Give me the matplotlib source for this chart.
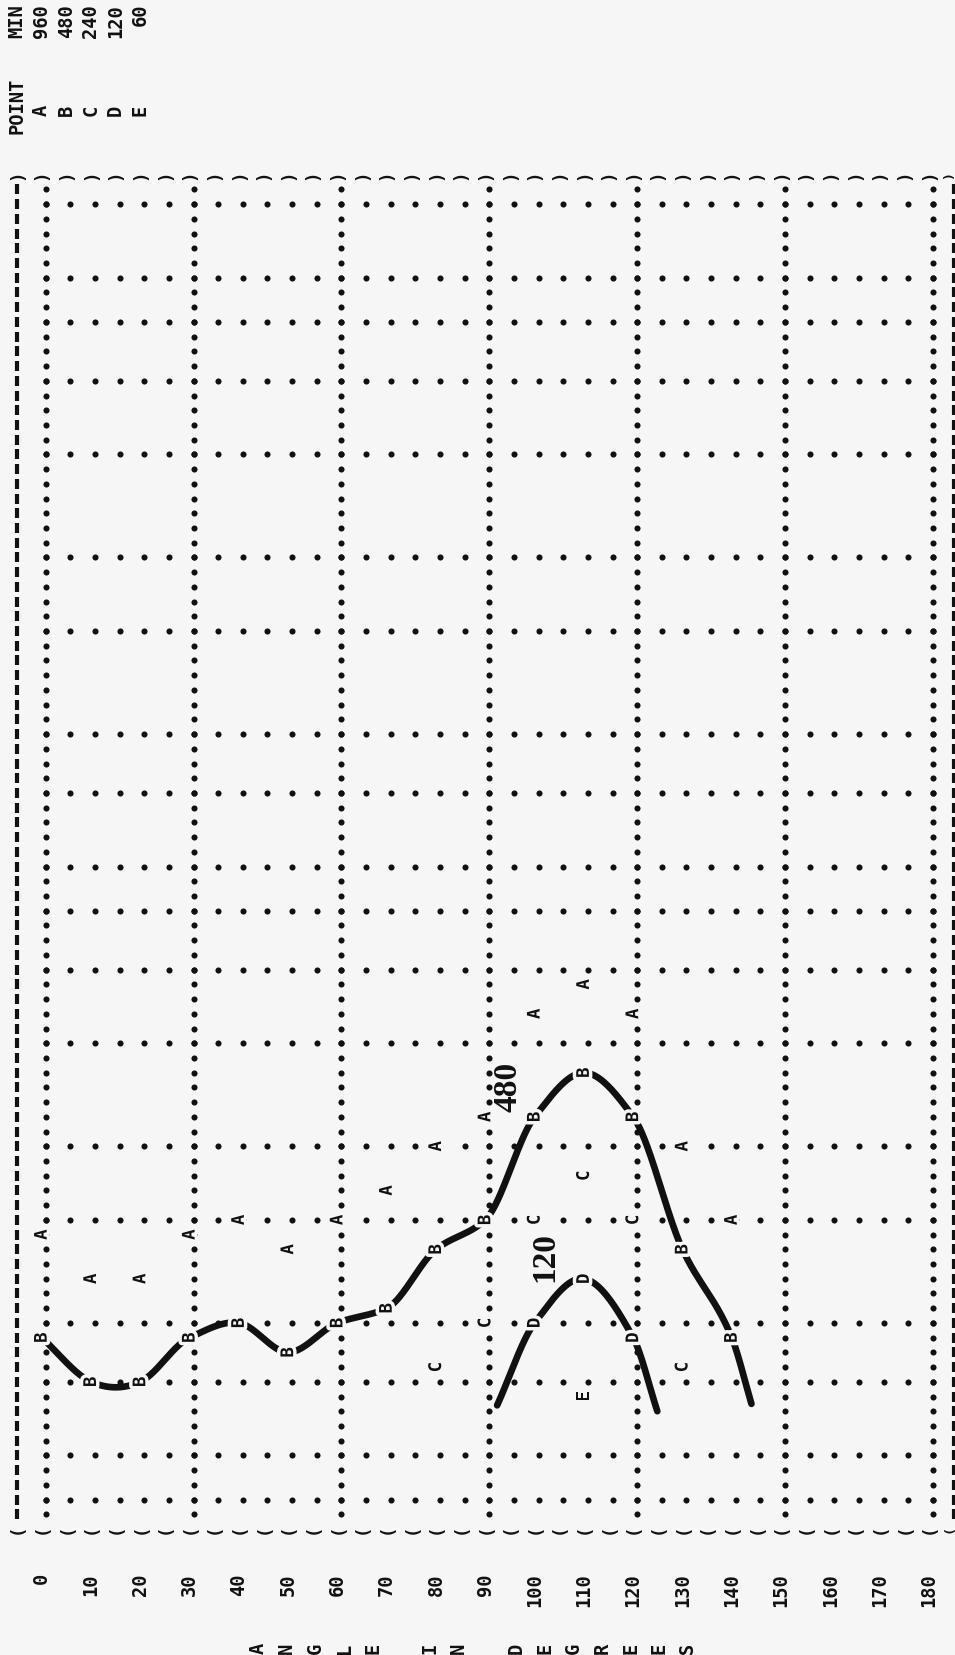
import numpy as np
import matplotlib
matplotlib.use("Agg")
import matplotlib.pyplot as plt
import matplotlib.patheffects as pe
from matplotlib.transforms import offset_copy
from matplotlib.font_manager import FontProperties

# plotted points: angle in degrees, value in printer columns
ang = [0, 10, 20, 30, 40, 50, 60, 70, 80, 90, 100, 110, 120, 130, 140]
col_a = [20, 17, 17, 20, 21, 19, 21, 23, 26, 28, 35, 37, 35, 26, 21]
col_b = [13, 10, 10, 13, 14, 12, 14, 15, 19, 21, 28, 31, 28, 19, 13]
ang_c = [80, 90, 100, 110, 120, 130]
col_c = [11, 14, 21, 24, 21, 11]
ang_d = [100, 110, 120]
col_d = [14, 17, 13]
ang_e = [110]
col_e = [9]

# where the hand-drawn curves start / stop
b_tail = (144.0, 8.5)
d_head = (92.4, 8.4)
d_tail = (124.9, 8.0)

# printer grid
grid_cols = [2, 5, 10, 14, 21, 26, 33, 38, 42, 45, 50, 54, 61, 66, 73, 78, 82, 85, 90]
grid_angles = [0, 30, 60, 90, 120, 150, 180]
tick_ang = list(range(0, 181, 10))
legend_min = ["960", "480", "240", "120", "60"]
legend_pt = ["A", "B", "C", "D", "E"]

bg = "#f6f6f6"
ink = "#111111"
mono = FontProperties(family="DejaVu Sans Mono", weight="bold", size=12.5)
mono_big = FontProperties(family="DejaVu Sans Mono", weight="bold", size=13.5)
mono_small = FontProperties(family="DejaVu Sans Mono", weight="bold", size=9.5)


def smooth(xs, ys, n=40):
    # piecewise cubic hermite, pchip-like slopes except at turning points
    xs = np.asarray(xs, float)
    ys = np.asarray(ys, float)
    h = np.diff(xs)
    d = np.diff(ys) / h
    m = np.empty_like(ys)
    m[0], m[-1] = d[0], d[-1]
    for i in range(1, len(xs) - 1):
        if d[i - 1] * d[i] > 0:
            w1 = 2 * h[i] + h[i - 1]
            w2 = h[i] + 2 * h[i - 1]
            m[i] = (w1 + w2) / (w1 / d[i - 1] + w2 / d[i])
        else:
            m[i] = (d[i - 1] * h[i] + d[i] * h[i - 1]) / (h[i - 1] + h[i])
    t = np.linspace(0, 1, n)
    h00 = 2 * t**3 - 3 * t**2 + 1
    h10 = t**3 - 2 * t**2 + t
    h01 = -2 * t**3 + 3 * t**2
    h11 = t**3 - t**2
    px, py = [], []
    for i in range(len(h)):
        px.append(xs[i] + t * h[i])
        py.append(h00 * ys[i] + h10 * h[i] * m[i] + h01 * ys[i + 1] + h11 * h[i] * m[i + 1])
    return np.concatenate(px), np.concatenate(py)


fig = plt.figure(figsize=(9.55, 16.55), dpi=100, facecolor=bg)
ax = fig.add_axes([0, 0, 1, 1])
ax.set_facecolor(bg)
ax.set_xlim(-9.27, 184.48)
ax.set_ylim(-8.56, 103.87)
ax.axis("off")

# characters sit a bit left of the dot positions
glyph = offset_copy(ax.transData, fig=fig, x=-4, y=0, units="dots")
edge = offset_copy(ax.transData, fig=fig, x=-9, y=0, units="dots")

# dotted grid
cols_all = np.arange(1, 92)
for a in grid_angles:
    ax.plot([a] * len(cols_all), cols_all, ls="none", marker="o", ms=4.4,
            color=ink, mec="none", zorder=1)
steps = np.arange(0, 181, 5)
for c in grid_cols:
    ax.plot(steps, [c] * len(steps), ls="none", marker="o", ms=4.4,
            color=ink, mec="none", zorder=1)

# frame
for a in range(-5, 186, 5):
    if a == 185:
        tr, fp = edge, mono_small
    else:
        tr, fp = glyph, mono
    ax.text(a, 92, ")", rotation=90, ha="center", va="center",
            fontproperties=fp, color=ink, transform=tr)
    ax.text(a, 0, "(", rotation=90, ha="center", va="center",
            fontproperties=fp, color=ink, transform=tr)
for a in (-5, 185):
    ax.plot([a] * len(cols_all), cols_all, ls="none", marker="|", ms=7.5,
            mew=3.0, color=ink, transform=glyph)

# hand-drawn curves
bx, by = smooth(ang + [b_tail[0]], col_b + [b_tail[1]])
ax.plot(bx, by, color=ink, lw=4.8, solid_capstyle="round", zorder=2,
        transform=glyph)
dx, dy = smooth([d_head[0]] + ang_d + [d_tail[0]], [d_head[1]] + col_d + [d_tail[1]])
ax.plot(dx, dy, color=ink, lw=4.8, solid_capstyle="round", zorder=2,
        transform=glyph)

# point letters
halo = [pe.withStroke(linewidth=5, foreground=bg)]
for letter, xs, ys in [("A", ang, col_a), ("B", ang, col_b), ("C", ang_c, col_c),
                       ("D", ang_d, col_d), ("E", ang_e, col_e)]:
    for x, y in zip(xs, ys):
        ax.text(x, y, letter, rotation=90, ha="center", va="center",
                fontproperties=mono, color=ink, transform=glyph,
                path_effects=halo, zorder=3)

# curve labels
serif = FontProperties(family="Liberation Serif", weight="bold", size=24)
ax.text(93.8, 30.0, "480", rotation=90, ha="center", va="center",
        fontproperties=serif, color=ink, zorder=4)
ax.text(101.3, 18.5, "120", rotation=90, ha="center", va="center",
        fontproperties=serif, color=ink, zorder=4)

# angle ticks
for a in tick_ang:
    ax.text(a, -3.0, str(a), rotation=90, ha="center", va="top",
            fontproperties=mono_big, color=ink, transform=glyph)

# axis title, one letter per printer line
fig.canvas.draw()
rend = fig.canvas.get_renderer()
_, lh, ld = rend.get_text_width_height_descent("lp", mono_big, ismath=False)
step_px = 4.929 * 5
ax.text(87.5, -8.1, "\n".join("ANGLE IN DEGREES"), rotation=90,
        ha="center", va="center", multialignment="center",
        linespacing=step_px / (lh - ld), fontproperties=mono_big,
        color=ink, transform=glyph)

# key
ax.text(-5, 103.6, "MIN", rotation=90, ha="center", va="top",
        fontproperties=mono_big, color=ink, transform=glyph)
for i, v in enumerate(legend_min):
    ax.text(5 * i, 103.6, v, rotation=90, ha="center", va="top",
            fontproperties=mono_big, color=ink, transform=glyph)
ax.text(-5, 98.6, "POINT", rotation=90, ha="center", va="top",
        fontproperties=mono_big, color=ink, transform=glyph)
for i, p in enumerate(legend_pt):
    ax.text(5 * i, 96.4, p, rotation=90, ha="center", va="center",
            fontproperties=mono_big, color=ink, transform=glyph)

fig.savefig("out.png", dpi=100, facecolor=bg)
